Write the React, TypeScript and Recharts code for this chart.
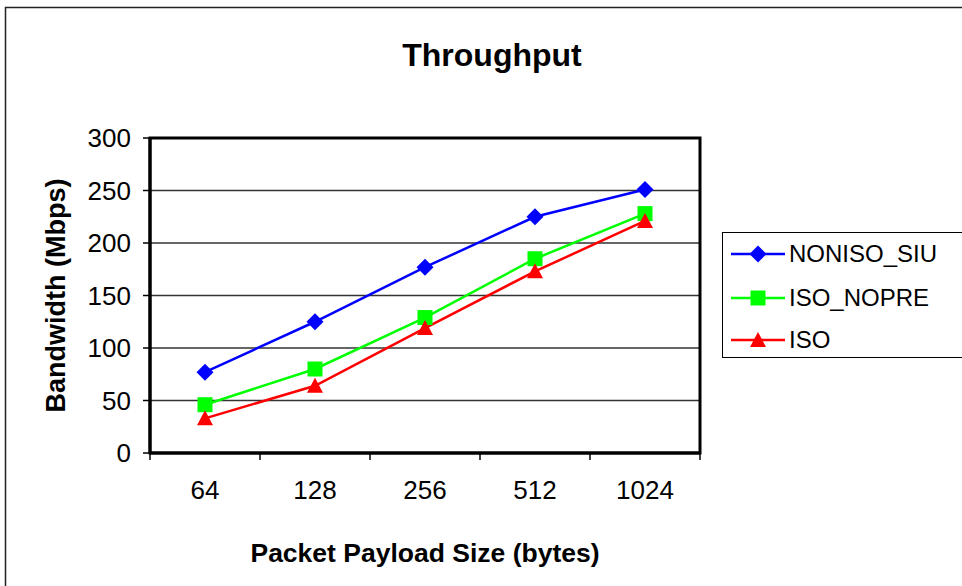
import React from 'react';
import {
  LineChart,
  Line,
  XAxis,
  YAxis,
  CartesianGrid,
  Legend,
  ReferenceArea
} from 'recharts';

const payloadSizes = ['64', '128', '256', '512', '1024'];
const nonisoSiu = [77, 125, 177, 225, 251];
const isoNopre = [46, 80, 129, 185, 228];
const iso = [33, 64, 119, 173, 221];
const bandwidthTicks = [0, 50, 100, 150, 200, 250, 300];

const FONT = '"Liberation Sans", Arial, sans-serif';

type Shape = 'diamond' | 'square' | 'triangle';

const series: { key: string; color: string; shape: Shape; values: number[] }[] = [
  { key: 'NONISO_SIU', color: '#0000FF', shape: 'diamond', values: nonisoSiu },
  { key: 'ISO_NOPRE', color: '#00FF00', shape: 'square', values: isoNopre },
  { key: 'ISO', color: '#FF0000', shape: 'triangle', values: iso }
];

// each category sits in the middle of its band, band edges are whole numbers
const data = payloadSizes.map((size, i) => {
  const row: { [k: string]: number | string } = { pos: i + 0.5, size };
  series.forEach(s => {
    row[s.key] = s.values[i];
  });
  return row;
});

// band edges get a tick mark, band centres get the label
const xTicks: number[] = [];
for (let i = 0; i <= payloadSizes.length; i++) {
  xTicks.push(i);
  if (i < payloadSizes.length) xTicks.push(i + 0.5);
}

const markerPath = (shape: Shape, cx: number, cy: number) => {
  if (shape === 'diamond') {
    return `M${cx},${cy - 8.5} L${cx + 8.5},${cy} L${cx},${cy + 8.5} L${cx - 8.5},${cy} Z`;
  }
  if (shape === 'square') {
    return `M${cx - 7.5},${cy - 7.5} h15 v15 h-15 Z`;
  }
  return `M${cx},${cy - 8} L${cx + 8},${cy + 7} L${cx - 8},${cy + 7} Z`;
};

const makeDot = (shape: Shape, color: string) => (props: any) => {
  const { cx, cy, index } = props;
  if (cx == null || cy == null) return <g key={index} />;
  return <path key={index} d={markerPath(shape, cx, cy)} fill={color} stroke="none" />;
};

const XTick = (props: any) => {
  const { x, y, payload } = props;
  const v = payload.value as number;
  if (Number.isInteger(v)) {
    return <line x1={x} y1={y} x2={x} y2={y + 7} stroke="#000" strokeWidth={1.5} />;
  }
  return (
    <text
      x={x}
      y={y + 28}
      dy="0.71em"
      textAnchor="middle"
      fill="#000"
      fontSize={26}
      fontFamily={FONT}
    >
      {payloadSizes[Math.round(v - 0.5)]}
    </text>
  );
};

const rowTops = [2, 46, 88];

const ChartLegend = () => (
  <div
    style={{
      position: 'relative',
      borderTop: '1.5px solid #000',
      borderLeft: '1.5px solid #000',
      borderBottom: '1.5px solid #000',
      background: '#fff',
      width: 262,
      height: 126,
      boxSizing: 'border-box',
      fontFamily: FONT
    }}
  >
    {series.map((s, i) => (
      <div
        key={s.key}
        style={{
          position: 'absolute',
          left: 0,
          top: rowTops[i],
          display: 'flex',
          alignItems: 'center',
          height: 38
        }}
      >
        <svg width={66} height={24} style={{ flexShrink: 0 }}>
          <line x1={8} y1={12} x2={62} y2={12} stroke={s.color} strokeWidth={2.5} />
          <path d={markerPath(s.shape, 35, 12)} fill={s.color} />
        </svg>
        <span style={{ fontSize: 24, color: '#000', whiteSpace: 'nowrap' }}>{s.key}</span>
      </div>
    ))}
  </div>
);

export default function App() {
  return (
    <div
      style={{
        position: 'absolute',
        left: 0,
        top: 0,
        width: 962,
        height: 586,
        overflow: 'hidden',
        background: '#fff',
        fontFamily: FONT
      }}
    >
      <div
        style={{
          position: 'absolute',
          left: 0,
          width: 984,
          top: 36,
          textAlign: 'center',
          fontSize: 32,
          fontWeight: 'bold',
          color: '#000',
          lineHeight: '38px'
        }}
      >
        Throughput
      </div>
      <div style={{ position: 'absolute', left: 0, top: 0 }}>
        <LineChart
          width={962}
          height={586}
          data={data}
          margin={{ top: 138, right: 262, left: 0, bottom: 0 }}
        >
          <CartesianGrid horizontal vertical={false} stroke="#333" strokeWidth={1.5} />
          <XAxis
            dataKey="pos"
            type="number"
            domain={[0, 5]}
            ticks={xTicks}
            interval={0}
            allowDataOverflow
            height={133}
            tickLine={false}
            tickSize={0}
            tickMargin={0}
            tick={<XTick />}
            axisLine={{ stroke: '#000', strokeWidth: 3 }}
            label={{
              value: 'Packet Payload Size (bytes)',
              position: 'insideBottom',
              offset: 24,
              fill: '#000',
              fontSize: 26.5,
              fontWeight: 'bold',
              fontFamily: FONT
            }}
          />
          <YAxis
            type="number"
            domain={[0, 300]}
            ticks={bandwidthTicks}
            interval={0}
            width={150}
            tickSize={7}
            tickMargin={12}
            tickLine={{ stroke: '#000', strokeWidth: 1.5 }}
            axisLine={{ stroke: '#000', strokeWidth: 3 }}
            tick={{ fill: '#000', fontSize: 26, fontFamily: FONT }}
            label={{
              value: 'Bandwidth (Mbps)',
              angle: -90,
              position: 'center',
              dx: -20,
              fill: '#000',
              fontSize: 27,
              fontWeight: 'bold',
              fontFamily: FONT
            }}
          />
          <ReferenceArea
            x1={0}
            x2={5}
            y1={0}
            y2={300}
            fill="none"
            fillOpacity={0}
            stroke="#000"
            strokeWidth={3}
            ifOverflow="visible"
          />
          {series.map(s => (
            <Line
              key={s.key}
              type="linear"
              dataKey={s.key}
              name={s.key}
              stroke={s.color}
              strokeWidth={2.5}
              dot={makeDot(s.shape, s.color)}
              activeDot={false}
              isAnimationActive={false}
            />
          ))}
          <Legend
            layout="horizontal"
            verticalAlign="middle"
            align="center"
            content={<ChartLegend />}
            wrapperStyle={{ position: 'absolute', left: 722, top: 232, width: 262, height: 126 }}
          />
        </LineChart>
      </div>
      {/* outer chart frame */}
      <svg
        width={962}
        height={586}
        style={{ position: 'absolute', left: 0, top: 0, pointerEvents: 'none', zIndex: 5 }}
      >
        <rect x={5.5} y={7.5} width={1000} height={700} fill="none" stroke="#222" strokeWidth={1.5} />
      </svg>
    </div>
  );
}
